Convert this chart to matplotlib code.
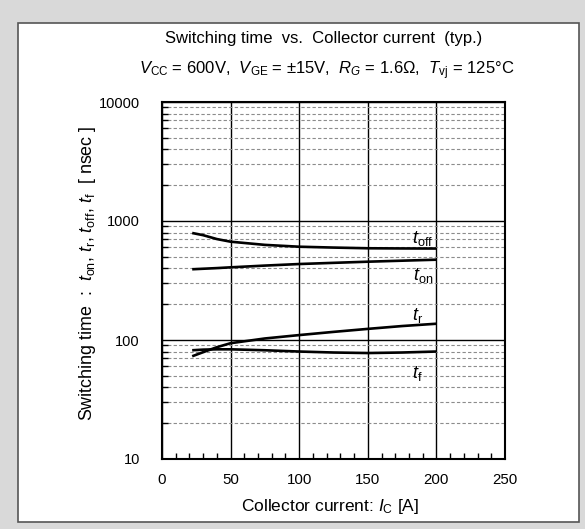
import matplotlib
matplotlib.use("Agg")
import matplotlib.pyplot as plt
from matplotlib.patches import Rectangle
from matplotlib.ticker import MultipleLocator, LogLocator, NullFormatter, FixedLocator

# collector current [A]
ic = [22, 30, 40, 50, 75, 100, 125, 150, 175, 200]
# switching times [nsec]
t_off = [793, 760, 705, 670, 630, 608, 598, 590, 588, 587]
t_on = [393, 397, 402, 408, 422, 435, 445, 455, 464, 473]
t_r = [73, 79, 87, 94, 103, 110, 117, 124, 131, 137]
t_f = [82, 83, 83.5, 83.5, 82, 80, 78.5, 77.7, 78.5, 80]

x_ticks = [0, 50, 100, 150, 200, 250]
y_ticks = [10, 100, 1000, 10000]

plt.rcParams['font.family'] = ['Liberation Sans', 'DejaVu Sans']
plt.rcParams['mathtext.fontset'] = 'custom'
plt.rcParams['mathtext.rm'] = 'Liberation Sans'
plt.rcParams['mathtext.it'] = 'Liberation Sans:italic'
plt.rcParams['mathtext.default'] = 'it'

fig = plt.figure(figsize=(5.85, 5.29), dpi=100)
fig.patch.set_facecolor('#d9d9d9')
fig.patches.append(Rectangle((18 / 585, 1 - 522 / 529), 561 / 585, 499 / 529,
                             transform=fig.transFigure, facecolor='white',
                             edgecolor='#555555', linewidth=1.2, zorder=-5))

ax = fig.add_axes([162 / 585, 1 - 459 / 529, 343 / 585, 357 / 529])
ax.set_yscale('log')
ax.set_xlim(0, 250)
ax.set_ylim(10, 10000)

ax.xaxis.set_major_locator(FixedLocator(x_ticks))
ax.xaxis.set_minor_locator(MultipleLocator(10))
ax.yaxis.set_major_locator(FixedLocator(y_ticks))
ax.yaxis.set_major_formatter(matplotlib.ticker.FuncFormatter(lambda v, p: "%d" % v))
ax.yaxis.set_minor_locator(LogLocator(base=10, subs=range(2, 10)))
ax.yaxis.set_minor_formatter(NullFormatter())

ax.grid(which='major', color='black', linewidth=1.0, linestyle='-')
ax.grid(which='minor', axis='y', color='#8c8c8c', linewidth=0.8, linestyle=(0, (3, 2)))
ax.tick_params(which='both', direction='in', top=False, right=False)
ax.tick_params(axis='x', which='major', length=0, pad=10, labelsize=10.8)
ax.tick_params(axis='y', which='major', length=0, pad=16, labelsize=10.5)
ax.tick_params(which='minor', length=4, width=1.0)
for s in ax.spines.values():
    s.set_linewidth(1.5)
ax.set_axisbelow(True)

for ys in (t_off, t_on, t_r, t_f):
    ax.plot(ic, ys, color='black', linewidth=1.9, solid_capstyle='butt')

ax.text(190, 710, r'$t_{\mathrm{off}}$', fontsize=13, ha='center', va='center')
ax.text(190, 345, r'$t_{\mathrm{on}}$', fontsize=13, ha='center', va='center')
ax.text(186, 160, r'$t_{\mathrm{r}}$', fontsize=13, ha='center', va='center')
ax.text(186, 52, r'$t_{\mathrm{f}}$', fontsize=13, ha='center', va='center')

ax.set_xlabel(r'Collector current: $I_{\mathrm{C}}$ [A]', fontsize=12.5)
ax.xaxis.set_label_coords((330 - 162) / 343, (459 - 507) / 357)
ax.xaxis.label.set_va('center')
ax.set_ylabel(r'Switching time  :  $t_{\mathrm{on}}$, $t_{\mathrm{r}}$, $t_{\mathrm{off}}$, $t_{\mathrm{f}}$  [ nsec ]',
              fontsize=12.9)
ax.yaxis.set_label_coords((88 - 162) / 343, (459 - 273) / 357)
ax.yaxis.label.set_va('center')

fig.text(324 / 585, 1 - 39 / 529, 'Switching time  vs.  Collector current  (typ.)',
         ha='center', va='center', fontsize=12)
fig.text(327 / 585, 1 - 71 / 529,
         r'$V_{\mathrm{CC}}$ = 600V,  $V_{\mathrm{GE}}$ = ±15V,  $R_G$ = 1.6Ω,  $T_{\mathrm{vj}}$ = 125°C',
         ha='center', va='center', fontsize=12)

fig.savefig("out.png", dpi=100, facecolor=fig.get_facecolor())
